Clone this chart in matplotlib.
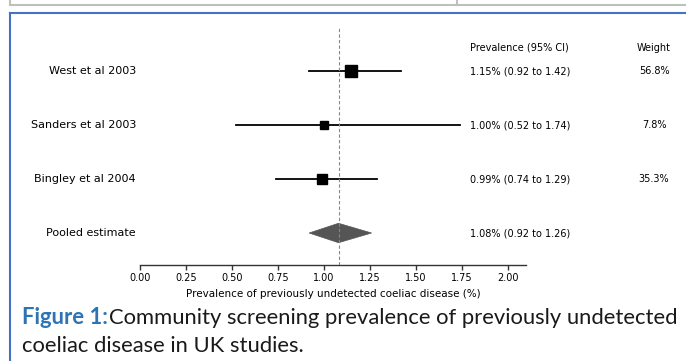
import numpy as np
import matplotlib
matplotlib.use("Agg")
import matplotlib.pyplot as plt
from matplotlib.lines import Line2D
from matplotlib.patches import Polygon

# study data
studies = ["West et al 2003", "Sanders et al 2003", "Bingley et al 2004"]
est = [1.15, 1.00, 0.99]
lo = [0.92, 0.52, 0.74]
hi = [1.42, 1.74, 1.29]
weights = [56.8, 7.8, 35.3]

pooled_label = "Pooled estimate"
pooled_est = 1.08
pooled_lo = 0.92
pooled_hi = 1.26

xticks = [0.0, 0.25, 0.5, 0.75, 1.0, 1.25, 1.5, 1.75, 2.0]
xlabel = "Prevalence of previously undetected coeliac disease (%)"
caption_bold = "Figure 1:"
caption_rest = "Community screening prevalence of previously undetected"
caption_line2 = "coeliac disease in UK studies."

W, H = 686, 361
fig = plt.figure(figsize=(W / 100, H / 100), dpi=100)


def px(x, y):
    # pixel coords (top-left origin) -> figure fraction
    return x / W, 1 - y / H


# page frame (table border above, blue box)
grey = "#bfbfbf"
blue = "#4472c4"
fig.add_artist(Line2D([10 / W, 1], [1 - 5 / H] * 2, color=grey, lw=1.5))
fig.add_artist(Line2D([10 / W] * 2, [1, 1 - 5 / H], color=grey, lw=1.5))
fig.add_artist(Line2D([457 / W] * 2, [1, 1 - 5 / H], color=grey, lw=1.5))
fig.add_artist(Line2D([10 / W, 1], [1 - 12.5 / H] * 2, color=blue, lw=1.5))
fig.add_artist(Line2D([10 / W] * 2, [1 - 12.5 / H, 0], color=blue, lw=1.5))

# axes placement
x0, x1 = 140, 526
ytop, ybot = 28, 265
ax = fig.add_axes([x0 / W, 1 - ybot / H, (x1 - x0) / W, (ybot - ytop) / H])
row_px = [71, 125, 179, 233]
step = 54
ax.set_xlim(0, 2.1)
ax.set_ylim((ybot - row_px[0]) / step, (ytop - row_px[0]) / step)

for s in ["top", "right", "left"]:
    ax.spines[s].set_visible(False)
ax.spines["bottom"].set_color("#333333")
ax.spines["bottom"].set_linewidth(1.0)
ax.set_yticks([])
ax.set_xticks(xticks)
ax.set_xticklabels(["%.2f" % t for t in xticks], fontsize=7)
ax.tick_params(axis="x", length=3.5, width=1, color="#333333", pad=2.5)
ax.set_xlabel(xlabel, fontsize=7.5, labelpad=4)

rows = np.arange(len(studies))
for i in rows:
    ax.plot([lo[i], hi[i]], [i, i], color="black", lw=1.3, zorder=2)
    ms = 3 + 0.75 * np.sqrt(weights[i])
    ax.plot(est[i], i, marker="s", color="black", ms=ms, zorder=3)

yp = len(studies)
diamond = Polygon([[pooled_lo, yp], [pooled_est, yp - 0.18], [pooled_hi, yp],
                   [pooled_est, yp + 0.18]], closed=True,
                  facecolor="#555555", edgecolor="#555555", lw=0.5, zorder=2)
ax.add_patch(diamond)

ax.axvline(pooled_est, color="#888888", lw=0.8, ls=(0, (3, 2)), zorder=4)

# text columns
lab_x = -0.022
ci_x = (470 - x0) / ((x1 - x0) / 2.1)
wt_x = (654 - x0) / ((x1 - x0) / 2.1)
head_y = (48 - row_px[0]) / step
ax.text(ci_x, head_y, "Prevalence (95% CI)", fontsize=7, va="center", ha="left", clip_on=False)
ax.text(wt_x, head_y, "Weight", fontsize=7, va="center", ha="center", clip_on=False)
for i in rows:
    ax.text(lab_x, i, studies[i], fontsize=8, ha="right", va="center", clip_on=False)
    ax.text(ci_x, i, "%.2f%% (%.2f to %.2f)" % (est[i], lo[i], hi[i]),
            fontsize=7, ha="left", va="center", clip_on=False)
    ax.text(wt_x, i, "%.1f%%" % weights[i], fontsize=7, ha="center", va="center", clip_on=False)
ax.text(lab_x, yp, pooled_label, fontsize=8, ha="right", va="center", clip_on=False)
ax.text(ci_x, yp, "%.2f%% (%.2f to %.2f)" % (pooled_est, pooled_lo, pooled_hi),
        fontsize=7, ha="left", va="center", clip_on=False)

# caption
cap_fs = 15.8
cx, cy = px(22, 318)
t1 = fig.text(cx, cy, caption_bold, fontsize=cap_fs, family="Lato", weight="bold",
              color="#2e74b5", va="center", ha="left")
fig.canvas.draw()
bb = t1.get_window_extent()
fig.text((bb.x1 + 1) / W, cy, caption_rest, fontsize=cap_fs, family="Lato",
         color="#1a1a1a", va="center", ha="left")
cx2, cy2 = px(22, 346)
fig.text(cx2, cy2, caption_line2, fontsize=cap_fs, family="Lato",
         color="#1a1a1a", va="center", ha="left")

fig.savefig("out.png", dpi=100)
